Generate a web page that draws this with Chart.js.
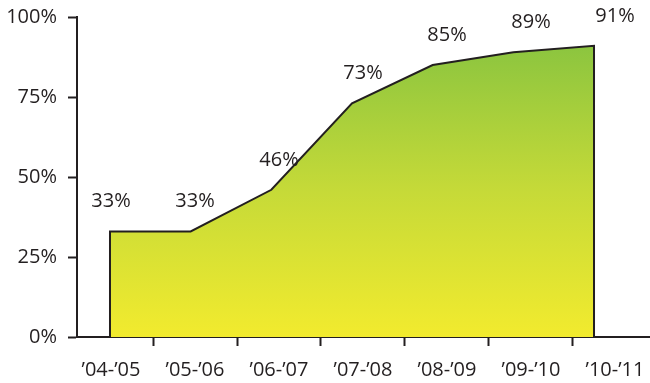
<!DOCTYPE html>
<html>
<head>
<meta charset="utf-8">
<script src="https://cdn.jsdelivr.net/npm/chart.js@4/dist/chart.umd.min.js"></script>
<style>
  html, body { margin: 0; padding: 0; background: #fff; }
  #wrap { width: 650px; height: 383px; }
</style>
</head>
<body>
<div id="wrap"><canvas id="myChart"></canvas></div>
<script>
// school years and the share for each one (percent)
let years = ['\u201904-\u201905', '\u201905-\u201906', '\u201906-\u201907', '\u201907-\u201908', '\u201908-\u201909', '\u201909-\u201910', '\u201910-\u201911']
let shares = [33, 33, 46, 73, 85, 89, 91]
let yTicks = [0, 25, 50, 75, 100]

const dark = '#231f20'
Chart.defaults.font.family = '"Open Sans", sans-serif'
Chart.defaults.font.size = 20
Chart.defaults.color = dark

// closed outline: down to zero at both ends so the edges get drawn too
let outline = [{ x: 0, y: 0 }]
shares.forEach(function (v, i) {
    outline.push({ x: i, y: v })
})
outline.push({ x: shares.length - 1, y: 0 })

// percent labels above each point
const pointLabels = {
    id: 'pointLabels',
    afterDatasetsDraw(chart) {
        let c = chart.ctx
        let xs = chart.scales.xl
        let ys = chart.scales.y
        c.save()
        c.font = '20px "Open Sans", sans-serif'
        c.fillStyle = dark
        c.textAlign = 'center'
        c.textBaseline = 'middle'
        shares.forEach(function (v, i) {
            c.fillText(v + '%', xs.getPixelForValue(i), ys.getPixelForValue(v) - 30)
        })
        c.restore()
    }
}

let currChart = document.getElementById('myChart').getContext('2d')

let areaChart = new Chart(currChart, {
    type: 'line',
    data: {
        datasets: [{
            data: outline,
            xAxisID: 'x',
            yAxisID: 'y',
            borderColor: dark,
            borderWidth: 2,
            borderJoinStyle: 'miter',
            pointRadius: 0,
            tension: 0,
            fill: 'origin',
            backgroundColor: function (ctx) {
                let chart = ctx.chart
                let area = chart.chartArea
                if (!area) return '#c0d836'
                let g = chart.ctx.createLinearGradient(0, area.bottom, 0, chart.scales.y.getPixelForValue(91))
                g.addColorStop(0, '#f2eb2e')
                g.addColorStop(0.5, '#c6da38')
                g.addColorStop(1, '#8cc53f')
                return g
            }
        }]
    },
    options: {
        responsive: true,
        maintainAspectRatio: false,
        animation: false,
        layout: { padding: { top: 17, right: 0, left: 0, bottom: 0 } },
        plugins: {
            legend: { display: false },
            tooltip: { enabled: false }
        },
        scales: {
            x: {
                type: 'linear',
                display: false,
                min: -0.409,
                max: 6.694
            },
            xl: {
                type: 'linear',
                position: 'bottom',
                min: -0.405,
                max: 6.417,
                afterBuildTicks: function (scale) {
                    scale.ticks = years.map(function (y, i) { return { value: i } })
                },
                afterFit: function (scale) {
                    scale.height = 46
                    scale.paddingLeft = 0
                    scale.paddingRight = 0
                },
                ticks: {
                    autoSkip: false,
                    maxRotation: 0,
                    padding: 12,
                    color: dark,
                    callback: function (v) { return years[v] }
                },
                grid: {
                    offset: true,
                    drawOnChartArea: false,
                    drawTicks: true,
                    tickLength: 9,
                    tickWidth: 2,
                    tickColor: dark
                },
                border: { color: dark, width: 2 }
            },
            y: {
                min: 0,
                max: 100,
                afterBuildTicks: function (scale) {
                    scale.ticks = yTicks.map(function (v) { return { value: v } })
                },
                afterFit: function (scale) {
                    scale.width = 77
                    scale.paddingTop = 0
                    scale.paddingBottom = 0
                },
                ticks: {
                    padding: 11,
                    color: dark,
                    callback: function (v) { return v + '%' }
                },
                grid: {
                    drawOnChartArea: false,
                    drawTicks: true,
                    tickLength: 9,
                    tickWidth: 2,
                    tickColor: dark
                },
                border: { color: dark, width: 2 }
            }
        }
    },
    plugins: [pointLabels]
})
</script>
</body>
</html>
